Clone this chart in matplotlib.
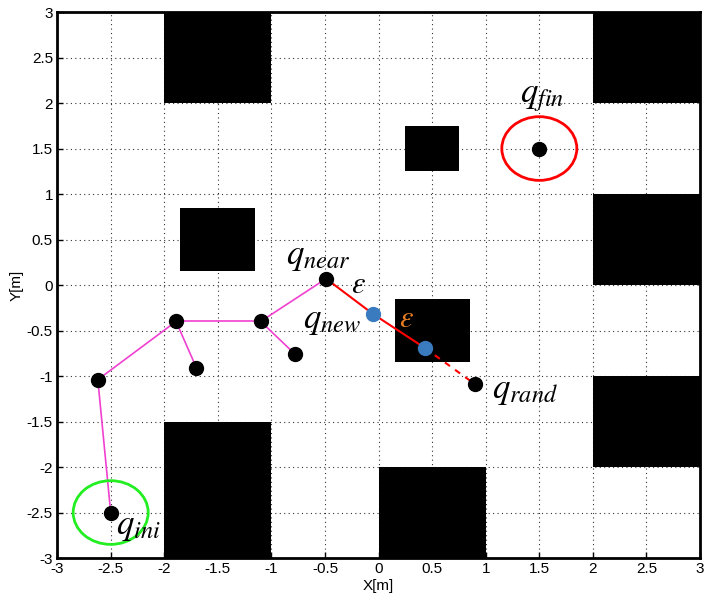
import numpy as np
import matplotlib
matplotlib.use('Agg')
import matplotlib.pyplot as plt
from matplotlib.patches import Rectangle, Ellipse

## obstacles: (x, y, width, height)
obstacles = [(-2, 2, 1, 1), (2, 2, 1, 1), (-1.85, 0.15, 0.7, 0.7),
             (0.25, 1.25, 0.5, 0.5), (2, 0, 1, 1), (0.15, -0.85, 0.7, 0.7),
             (2, -2, 1, 1), (-2, -3, 1, 1.5), (0, -3, 1, 1)]

## tree nodes
tree_x = [-2.5, -2.62, -1.89, -1.7, -1.1, -0.78, -0.49]
tree_y = [-2.5, -1.04, -0.4, -0.91, -0.4, -0.76, 0.07]
tree_edges = [(0, 1), (1, 2), (2, 3), (2, 4), (4, 5), (4, 6)]

q_near = (-0.49, 0.07)
q_new = [(-0.05, -0.32), (0.43, -0.69)]
q_rand = (0.9, -1.09)
q_ini = (-2.5, -2.5)
q_fin = (1.5, 1.5)
radius = 0.35

ticks = np.arange(-3, 3.01, 0.5)
tick_labels = ['-3', '-2.5', '-2', '-1.5', '-1', '-0.5', '0', '0.5', '1', '1.5', '2', '2.5', '3']

plt.rcParams['mathtext.fontset'] = 'stix'
plt.rcParams['font.family'] = ['Liberation Sans', 'DejaVu Sans']

fig = plt.figure(figsize=(7.05, 6.01), dpi=100)
ax = fig.add_axes([0.081, 0.0715, 0.912, 0.9085])

for (x, y, w, h) in obstacles:
    ax.add_patch(Rectangle((x, y), w, h, facecolor='black', edgecolor='none', zorder=1))

for a, b in tree_edges:
    ax.plot([tree_x[a], tree_x[b]], [tree_y[a], tree_y[b]], color='#f040d0', lw=1.2, zorder=2)

ax.plot([q_near[0], q_new[0][0], q_new[1][0]], [q_near[1], q_new[0][1], q_new[1][1]],
        color='red', lw=1.5, zorder=2)
ax.plot([q_new[1][0], q_rand[0]], [q_new[1][1], q_rand[1]], color='red', lw=1.5,
        ls=(0, (3, 3)), zorder=2)

ax.add_patch(Ellipse(q_ini, 2 * radius, 2 * radius, facecolor='none', edgecolor='#22ee22', lw=2, zorder=3))
ax.add_patch(Ellipse(q_fin, 2 * radius, 2 * radius, facecolor='none', edgecolor='red', lw=2, zorder=3))

ax.plot(tree_x, tree_y, 'o', color='black', ms=10, zorder=4)
ax.plot([q_rand[0], q_fin[0]], [q_rand[1], q_fin[1]], 'o', color='black', ms=10, zorder=4)
ax.plot([p[0] for p in q_new], [p[1] for p in q_new], 'o', color='#3a7bbf', ms=10, zorder=4)

fs = 25
ax.text(-0.56, 0.31, r'$q_{near}$', fontsize=fs, ha='center', va='center', zorder=5)
ax.text(-0.19, 0.0, r'$\varepsilon$', fontsize=22, ha='center', va='center', zorder=5)
ax.text(-0.43, -0.39, r'$q_{new}$', fontsize=fs, ha='center', va='center', zorder=5)
ax.text(0.26, -0.37, r'$\varepsilon$', fontsize=22, color='#e87d22', ha='center', va='center', zorder=5)
ax.text(1.37, -1.16, r'$q_{rand}$', fontsize=fs, ha='center', va='center', zorder=5)
ax.text(1.53, 2.06, r'$q_{fin}$', fontsize=fs, ha='center', va='center', zorder=5)
ax.text(-2.24, -2.65, r'$q_{ini}$', fontsize=fs, ha='center', va='center', zorder=5)

ax.set_xlim(-3, 3)
ax.set_ylim(-3, 3)
ax.set_xticks(ticks)
ax.set_yticks(ticks)
ax.set_xticklabels(tick_labels, fontsize=11)
ax.set_yticklabels(tick_labels, fontsize=11)
ax.tick_params(direction='in', length=4, width=1, pad=3)
ax.grid(True, color='black', ls=(0, (1, 3)), lw=0.8, alpha=0.8)
ax.set_axisbelow(True)
for s in ax.spines.values():
    s.set_linewidth(2)
    s.set_zorder(6)
ax.set_xlabel('X[m]', fontsize=11, labelpad=2)
ax.set_ylabel('Y[m]', fontsize=11, labelpad=2)

fig.savefig('out.png', dpi=100)
